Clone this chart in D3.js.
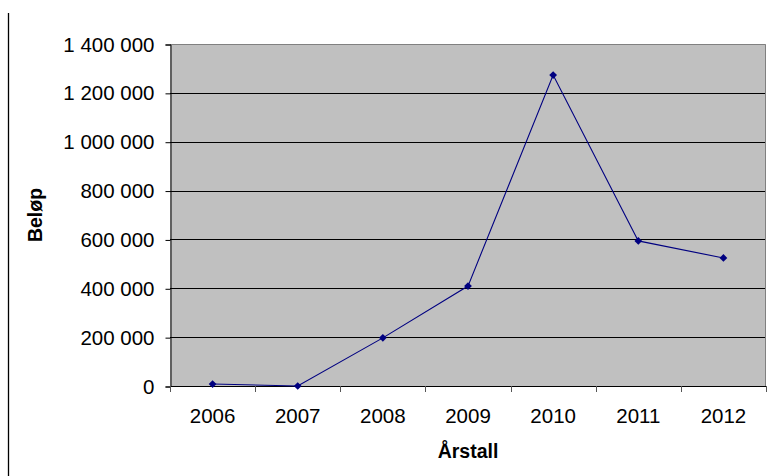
<!DOCTYPE html>
<html>
<head>
<meta charset="utf-8">
<script src="https://cdn.jsdelivr.net/npm/d3@7"></script>
<style>
  html, body { margin: 0; padding: 0; background: #fff; }
  svg { display: block; }
  text { font-family: "Liberation Sans", Arial, sans-serif; fill: #000; }
</style>
</head>
<body>
<script>
const years = ["2006", "2007", "2008", "2009", "2010", "2011", "2012"];
const amounts = [8000, 0, 197000, 409000, 1273000, 594000, 524000];
const yTicks = [0, 200000, 400000, 600000, 800000, 1000000, 1200000, 1400000];
const xTitle = "Årstall";
const yTitle = "Beløp";

const W = 768, H = 476;
const plot = { left: 170, right: 766, top: 44, bottom: 386 };
const tickFont = 20.5, titleFont = 19.5;

const svg = d3.select("body").append("svg").attr("width", W).attr("height", H);

// left border line of the chart frame
svg.append("line")
  .attr("x1", 8.5).attr("x2", 8.5).attr("y1", 13).attr("y2", H)
  .attr("stroke", "#000").attr("stroke-width", 1.3);

const x = d3.scaleBand().domain(years).range([plot.left, plot.right]).padding(0);
const y = d3.scaleLinear().domain([0, 1400000]).range([plot.bottom, plot.top]);

const fmt = v => d3.format(",")(v).replace(/,/g, " ");

// plot background
svg.append("rect")
  .attr("x", plot.left).attr("y", plot.top)
  .attr("width", plot.right - plot.left).attr("height", plot.bottom - plot.top)
  .attr("fill", "#c0c0c0");

// gridlines
svg.append("g").selectAll("line").data(yTicks.filter(d => d > 0 && d < 1400000)).join("line")
  .attr("x1", plot.left).attr("x2", plot.right)
  .attr("y1", d => Math.round(y(d)) + 0.5).attr("y2", d => Math.round(y(d)) + 0.5)
  .attr("stroke", "#000").attr("stroke-width", 1);

// top and right border
svg.append("path")
  .attr("d", `M${plot.left},${plot.top + 0.5}H${plot.right - 0.5}V${plot.bottom}`)
  .attr("fill", "none").attr("stroke", "#808080").attr("stroke-width", 1);

// y axis
const yAxis = d3.axisLeft(y).tickValues(yTicks).tickFormat(fmt).tickSize(5).tickPadding(11);
const gy = svg.append("g").attr("transform", `translate(${plot.left + 0.5},0.5)`).call(yAxis);
gy.select(".domain").attr("stroke", "#000");
gy.selectAll(".tick line").attr("stroke", "#000");
gy.selectAll(".tick text").attr("font-size", tickFont).attr("font-family", "Liberation Sans, Arial, sans-serif").attr("fill", "#000");

// x axis
const xAxis = d3.axisBottom(x).tickSize(0).tickPadding(22);
const gx = svg.append("g").attr("transform", `translate(0,${plot.bottom + 0.5})`).call(xAxis);
gx.select(".domain").attr("stroke", "#000").attr("d", `M${plot.left},0H${plot.right}`);
gx.selectAll(".tick text").attr("font-size", tickFont).attr("font-family", "Liberation Sans, Arial, sans-serif").attr("fill", "#000");

// x ticks at category boundaries
const bounds = years.map(d => x(d)).concat([x(years[years.length - 1]) + x.bandwidth()]);
svg.append("g").selectAll("line").data(bounds).join("line")
  .attr("x1", d => Math.round(d) + 0.5).attr("x2", d => Math.round(d) + 0.5)
  .attr("y1", plot.bottom).attr("y2", plot.bottom + 6)
  .attr("stroke", "#555").attr("stroke-width", 1);

// line
const cx = d => x(d) + x.bandwidth() / 2;
const line = d3.line().x((d, i) => cx(years[i])).y(d => y(d));
svg.append("path").datum(amounts)
  .attr("d", line).attr("fill", "none").attr("stroke", "#000080").attr("stroke-width", 1.1);

// diamond markers (square rotated 45deg)
const sym = d3.symbol().type(d3.symbolSquare).size(30);
svg.append("g").selectAll("path").data(amounts).join("path")
  .attr("transform", (d, i) => `translate(${cx(years[i])},${y(d)}) rotate(45)`)
  .attr("d", sym).attr("fill", "#000080");

// axis titles
svg.append("text")
  .attr("x", (plot.left + plot.right) / 2).attr("y", 458)
  .attr("text-anchor", "middle").attr("font-size", titleFont).attr("font-weight", "bold")
  .text(xTitle);

svg.append("text")
  .attr("transform", `translate(42,${(plot.top + plot.bottom) / 2}) rotate(-90)`)
  .attr("text-anchor", "middle").attr("font-size", titleFont).attr("font-weight", "bold")
  .text(yTitle);
</script>
</body>
</html>
